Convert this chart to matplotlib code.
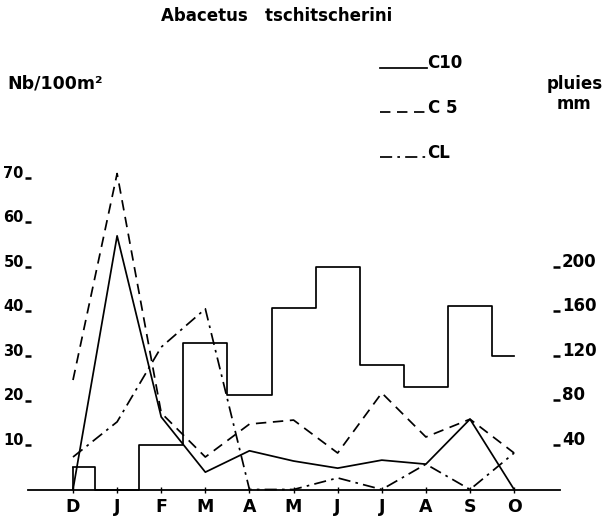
import matplotlib
matplotlib.use("Agg")
import matplotlib.pyplot as plt
from matplotlib.legend_handler import HandlerLine2D
import numpy as np

# ---- data ----
months = ['D', 'J', 'F', 'M', 'A', 'M', 'J', 'J', 'A', 'S', 'O']
c10 = [0, 57, 16.3, 3.9, 8.7, 6.4, 4.8, 6.6, 5.7, 15.8, 0]
c5 = [24.6, 71, 17.2, 7.3, 14.7, 15.6, 8.2, 21.7, 11.8, 15.8, 8.2]
cl = [7.3, 15.2, 32, 40.6, 0, 0, 2.6, 0, 5.7, 0, 8.2]
rain = [20, 0, 40, 132, 85, 163, 200, 112, 92, 165, 120]
left_ticks = [10, 20, 30, 40, 50, 60, 70]
right_ticks = [40, 80, 120, 160, 200]

W, H = 606, 520
plt.rcParams['font.family'] = ['DejaVu Sans']
plt.rcParams['font.weight'] = 'bold'
fig = plt.figure(figsize=(W / 100, H / 100), dpi=100)

base_px = 489.5
ppu = 4.45
ymax = 75
ax = fig.add_axes([28 / W, (H - base_px) / H, 532 / W, ymax * ppu / H])
ax.set_xlim(-1.02, 11.04)
ax.set_ylim(0, ymax)
ax2 = ax.twinx()
ax2.set_ylim(0, ymax * 4)

for a in (ax, ax2):
    for s in ('top', 'left', 'right'):
        a.spines[s].set_visible(False)
ax2.spines['bottom'].set_visible(False)
ax.spines['bottom'].set_linewidth(1.3)

x = np.arange(len(months))
ax.set_xticks(x)
ax.set_xticklabels(months, fontsize=12.5, fontweight='bold')
ax.tick_params(axis='x', direction='inout', length=5, width=1.0, pad=3.5)

# left ticks: small dash right after the number
ax.set_yticks(left_ticks)
ax.set_yticklabels([str(v) for v in left_ticks], fontsize=10.5, fontweight='bold')
ax.tick_params(axis='y', direction='inout', length=5, width=1.8, pad=0.5)
for t in ax.get_yticklabels():
    t.set_va('baseline')

# right ticks: dash before the number
ax2.set_yticks(right_ticks)
ax2.set_yticklabels([str(v) for v in right_ticks], fontsize=12, fontweight='bold')
ax2.tick_params(axis='y', direction='in', length=5, width=1.8, pad=1.5)
for t in ax2.get_yticklabels():
    t.set_va('baseline')

lw = 1.25
ax.plot(x, c10, color='black', lw=lw, clip_on=False, label='C10')
ax.plot(x, c5, color='black', lw=lw, ls=(0, (6, 3.8)), clip_on=False, label='C 5')
ax.plot(x, cl, color='black', lw=lw, ls=(0, (7, 3, 1.5, 3)), clip_on=False, label='CL')

ax2.step(x, rain, where='mid', color='black', lw=lw, clip_on=False)
ax2.vlines(x[0], 0, rain[0], color='black', lw=lw)

# titles
fig.text(277 / W, 1 - 16 / H, "Abacetus   tschitscherini", ha='center', va='center',
         fontsize=12, fontweight='bold')
fig.text(7 / W, 1 - 83 / H, "Nb/100m\u00b2", ha='left', va='center',
         fontsize=12.5, fontweight='bold')
fig.text(575 / W, 1 - 89 / H, "pluies", ha='center', va='baseline',
         fontsize=12, fontweight='bold')
fig.text(574 / W, 1 - 109 / H, "mm", ha='center', va='baseline',
         fontsize=12, fontweight='bold')


class LowLine(HandlerLine2D):
    def create_artists(self, legend, orig_handle, xdescent, ydescent,
                       width, height, fontsize, trans):
        arts = super().create_artists(legend, orig_handle, xdescent, ydescent,
                                      width, height, fontsize, trans)
        for a in arts:
            a.set_ydata(np.asarray(a.get_ydata()) - 0.3 * fontsize)
        return arts


handles, labels = ax.get_legend_handles_labels()
leg = fig.legend(handles, labels, loc='upper left',
                 bbox_to_anchor=(380 / W, 1 - 54.5 / H),
                 frameon=False, handlelength=2.8, handletextpad=0.05,
                 labelspacing=1.6, borderpad=0, borderaxespad=0,
                 prop={'weight': 'bold', 'size': 12},
                 handler_map={h: LowLine() for h in handles})

fig.savefig('out.png', dpi=100)
